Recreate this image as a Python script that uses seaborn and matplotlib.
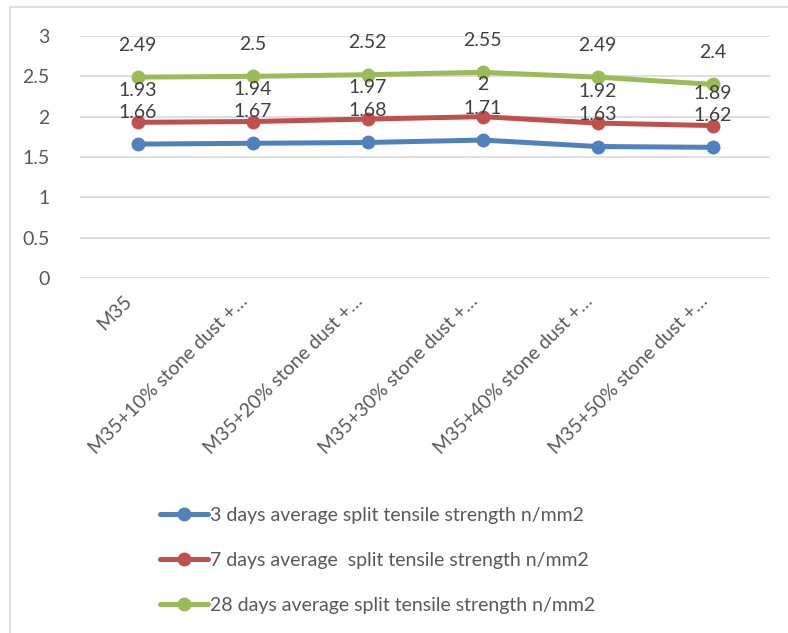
import matplotlib
matplotlib.use("Agg")
import matplotlib.pyplot as plt
import matplotlib.transforms as mtransforms
import pandas as pd
import seaborn as sns
from matplotlib.patches import Rectangle

# data
mixes = ["M35", "M35+10% stone dust +\u2026", "M35+20% stone dust +\u2026",
         "M35+30% stone dust +\u2026", "M35+40% stone dust +\u2026",
         "M35+50% stone dust +\u2026"]
day3 = [1.66, 1.67, 1.68, 1.71, 1.63, 1.62]
day7 = [1.93, 1.94, 1.97, 2.00, 1.92, 1.89]
day28 = [2.49, 2.50, 2.52, 2.55, 2.49, 2.40]
series_names = ["3 days average split tensile strength n/mm2",
                "7 days average  split tensile strength n/mm2",
                "28 days average split tensile strength n/mm2"]
colors = ["#4F81BD", "#C0504D", "#9BBB59"]

sns.set_style("white")
plt.rcParams["font.family"] = ["Lato", "DejaVu Sans"]

fig = plt.figure(figsize=(7.88, 6.33), dpi=100)
ax = fig.add_axes([80 / 788, 1 - 278 / 633, 690 / 788, 242 / 633])

# outer chart border
fig.patches.append(Rectangle((10 / 788, -0.05), 1.0, 1 - 7 / 633 + 0.05,
                             transform=fig.transFigure, fill=False,
                             edgecolor="#D9D9D9", linewidth=1.2))

x = list(range(len(mixes)))
for vals, name, col in zip([day3, day7, day28], series_names, colors):
    df = pd.DataFrame({"x": x, "y": vals})
    sns.lineplot(data=df, x="x", y="y", ax=ax, color=col, linewidth=3.6,
                 marker="o", markersize=10, markeredgewidth=0, label=name)
    for xi, v in zip(x, vals):
        ax.annotate(f"{v:g}", (xi, v), xytext=(0, 32), textcoords="offset pixels",
                    ha="center", va="center", fontsize=14, color="#404040")

ax.set_xlim(-0.5, len(mixes) - 0.5)
ax.set_ylim(0, 3)
ax.set_yticks([0, 0.5, 1, 1.5, 2, 2.5, 3])
ax.set_yticklabels(["0", "0.5", "1", "1.5", "2", "2.5", "3"])
ax.yaxis.grid(True, color="#D9D9D9", linewidth=1.2)
ax.set_axisbelow(True)
for s in ax.spines.values():
    s.set_visible(False)
ax.set_xticks(x)
ax.set_xticklabels(mixes, rotation=45, ha="right", rotation_mode="anchor")
ax.tick_params(axis="both", length=0, labelsize=14, labelcolor="#595959")
ax.tick_params(axis="x", pad=10)
ax.tick_params(axis="y", pad=22)
shift = mtransforms.ScaledTranslation(-14 / 100, 0, fig.dpi_scale_trans)
for lbl in ax.get_xticklabels():
    lbl.set_transform(lbl.get_transform() + shift)
ax.set_xlabel("")
ax.set_ylabel("")

ax.legend(loc="upper left", bbox_to_anchor=(152 / 788, 1 - 499 / 633),
          bbox_transform=fig.transFigure, frameon=False, fontsize=14,
          labelcolor="#595959", handlelength=2.5, handletextpad=0.1,
          labelspacing=1.45, borderaxespad=0)

fig.savefig("out.png", dpi=100)
